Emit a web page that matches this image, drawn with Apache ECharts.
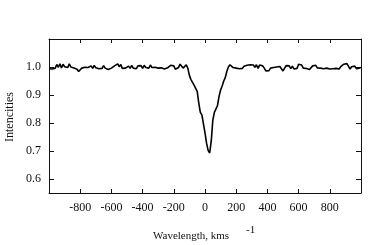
<!DOCTYPE html>
<html><head><meta charset="utf-8">
<script src="https://cdn.jsdelivr.net/npm/echarts@6/dist/echarts.min.js"></script>
<style>html,body{margin:0;padding:0;background:#fff}#c{width:382px;height:245px}</style>
</head><body><div id="c"></div>
<script>
const velocity = [-1000,-990,-980,-970,-960,-950,-940,-930,-920,-910,-900,-890,-880,-870,-860,-850,-840,-830,-820,-810,
-800,-790,-780,-770,-760,-750,-740,-730,-720,-710,-700,-690,-680,-670,-660,-650,-640,-630,-620,-610,
-600,-590,-580,-570,-560,-550,-540,-530,-520,-510,-500,-490,-480,-470,-460,-450,-440,-430,-420,-410,
-400,-390,-380,-370,-360,-350,-340,-330,-320,-310,-300,-290,-280,-270,-260,-250,-240,-230,-220,-210,
-200,-190,-180,-170,-160,-150,-140,-130,-120,-110,-100,-90,-80,-70,-60,-50,-40,-30,-20,-10,
0,10,20,30,40,50,60,70,80,90,100,110,120,130,140,150,160,170,180,190,
200,210,220,230,240,250,260,270,280,290,300,310,320,330,340,350,360,370,380,390,
400,410,420,430,440,450,460,470,480,490,500,510,520,530,540,550,560,570,580,590,
600,610,620,630,640,650,660,670,680,690,700,710,720,730,740,750,760,770,780,790,
800,810,820,830,840,850,860,870,880,890,900,910,920,930,940,950,960,970,980,990,1000];
const intensity = [0.994,0.997,0.993,0.998,0.996,1.009,0.999,1.011,0.997,1.010,1.001,1.008,0.998,1.011,1.000,1.006,0.996,1.002,0.992,0.984,
0.988,0.996,0.993,0.999,0.994,0.998,0.996,1.004,0.995,1.006,0.997,1.002,0.994,0.999,0.995,1.005,0.996,1.003,0.991,0.989,
0.996,0.993,1.004,0.998,1.011,1.001,1.009,0.995,0.990,0.996,0.992,1.003,0.995,1.006,0.996,1.001,0.994,1.004,0.997,1.005,
0.995,1.006,0.998,1.004,0.996,1.007,0.998,1.005,0.999,1.003,0.996,1.002,0.997,0.999,0.993,0.991,0.997,0.994,1.006,1.010,
1.004,0.992,0.990,0.998,1.010,1.008,0.996,1.002,1.008,0.995,0.970,0.955,0.945,0.935,0.928,0.913,0.872,0.838,0.829,0.822,
0.765,0.728,0.702,0.693,0.735,0.810,0.838,0.836,0.862,0.895,0.918,0.932,0.950,0.962,0.985,1.000,1.008,1.003,0.998,1.002,
0.996,1.001,0.994,1.000,0.995,1.003,0.997,1.006,1.000,1.008,1.003,1.007,0.999,1.008,0.995,1.007,1.001,1.004,0.996,0.986,
0.990,0.987,0.996,0.993,0.998,0.995,1.000,0.996,1.002,0.994,0.986,0.990,1.005,1.011,1.004,0.994,1.003,0.993,0.999,0.995,
1.010,1.003,1.007,0.996,1.002,0.995,0.999,0.991,0.995,1.004,0.998,1.006,0.997,1.004,0.996,1.002,0.994,1.000,0.996,0.999,
0.993,0.998,0.994,1.000,0.995,0.999,0.993,1.001,0.997,1.010,1.006,1.012,1.002,0.993,1.001,0.995,1.003,0.994,1.000,0.996,0.998];
const yTicks = [0.6,0.7,0.8,0.9,1.0];
const xTicks = [-800,-600,-400,-200,0,200,400,600,800];

const FONT = 'Liberation Serif';
const chart = echarts.init(document.getElementById('c'), null, {renderer:'canvas'});
const data = velocity.map((v,i)=>[v,intensity[i]]);
const line = {show:true,onZero:false,lineStyle:{color:'#111',width:1}};
chart.setOption({
  animation:false,
  backgroundColor:'#fff',
  grid:{left:49,right:21,top:39,bottom:52,show:false},
  xAxis:[
    {type:'value',min:-1000,max:1000,position:'bottom',axisLine:line,splitLine:{show:false},
      axisTick:{show:true,inside:true,length:4,lineStyle:{color:'#111'},customValues:xTicks},
      axisLabel:{show:true,customValues:xTicks,margin:9,fontFamily:FONT,fontSize:12,color:'#111'}},
    {type:'value',min:-1000,max:1000,position:'top',axisLine:line,splitLine:{show:false},
      axisTick:{show:true,inside:true,length:4,lineStyle:{color:'#111'},customValues:xTicks},
      axisLabel:{show:false}}
  ],
  yAxis:[
    {type:'value',min:0.55,max:1.1,position:'left',axisLine:line,splitLine:{show:false},
      axisTick:{show:true,inside:true,length:5,lineStyle:{color:'#111'},customValues:yTicks},
      axisLabel:{show:true,customValues:yTicks,margin:8,fontFamily:FONT,fontSize:12,color:'#111',
        formatter:v=>v.toFixed(1)}},
    {type:'value',min:0.55,max:1.1,position:'right',axisLine:line,splitLine:{show:false},
      axisTick:{show:true,inside:true,length:5,lineStyle:{color:'#111'},customValues:yTicks},
      axisLabel:{show:false}}
  ],
  series:[{type:'line',data:data,xAxisIndex:0,yAxisIndex:0,showSymbol:false,
    lineStyle:{color:'#000',width:1.6},z:3}],
  graphic:[
    {type:'text',x:153,y:236,style:{text:'Wavelength, kms',font:'11px "Liberation Serif"',fill:'#111',align:'left',verticalAlign:'middle'}},
    {type:'text',x:246,y:230,style:{text:'-1',font:'11px "Liberation Serif"',fill:'#111',align:'left',verticalAlign:'middle'}},
    {type:'text',x:10,y:117,rotation:Math.PI/2,
      style:{text:'Intencities',font:'12px "Liberation Serif"',fill:'#111',align:'center',verticalAlign:'middle'}}
  ]
});
</script></body></html>
